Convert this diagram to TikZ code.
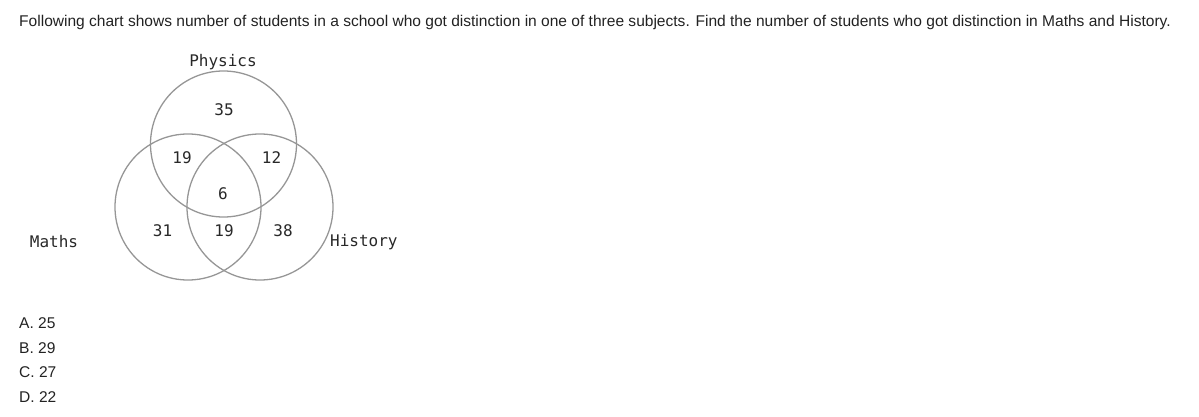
\documentclass[tikz,border=0pt]{standalone}
\usepackage{fontspec}
\setmainfont{Liberation Sans}
\newfontfamily\vennfont{DejaVu Sans Mono}
\definecolor{txt}{RGB}{34,34,34}
\definecolor{ring}{RGB}{150,150,150}
\definecolor{vtxt}{RGB}{40,40,40}
\begin{document}
\begin{tikzpicture}[x=1pt,y=-1pt,
  ringstyle/.style={draw=ring,line width=1.3pt,circle,minimum size=146pt,inner sep=0pt},
  vlabel/.style={font=\vennfont\fontsize{16}{18}\selectfont,text=vtxt,inner sep=0pt},
  qtext/.style={font=\fontsize{15.55}{18}\selectfont,text=txt,inner sep=0pt,anchor=base west}]
\useasboundingbox (0,0) rectangle (1199,417);
\node[qtext] (title) at (19,26.5) {Following chart shows number of students in a school who got distinction in one of three subjects. Find the number of students who got distinction in Maths and History.};
\node[ringstyle] (phys) at (223.5,144) {};
\node[ringstyle] (math) at (188,207) {};
\node[ringstyle] (hist) at (260,207) {};
\node[vlabel] (lphys) at (223,62) {Physics};
\node[vlabel] (lmath) at (54,242) {Maths};
\node[vlabel,anchor=west] (lhist) at (330,242) {History};
\node[vlabel] (n35) at (224,110) {35};
\node[vlabel] (n19a) at (182,158) {19};
\node[vlabel] (n12) at (271.5,158) {12};
\node[vlabel] (n6) at (223,194) {6};
\node[vlabel] (n31) at (162.5,231) {31};
\node[vlabel] (n19b) at (224,231) {19};
\node[vlabel] (n38) at (283,231) {38};
\node[qtext] (oa) at (19,328.5) {A. 25};
\node[qtext] (ob) at (19,353) {B. 29};
\node[qtext] (oc) at (19,377.5) {C. 27};
\node[qtext] (od) at (19,402) {D. 22};
\end{tikzpicture}
\end{document}
